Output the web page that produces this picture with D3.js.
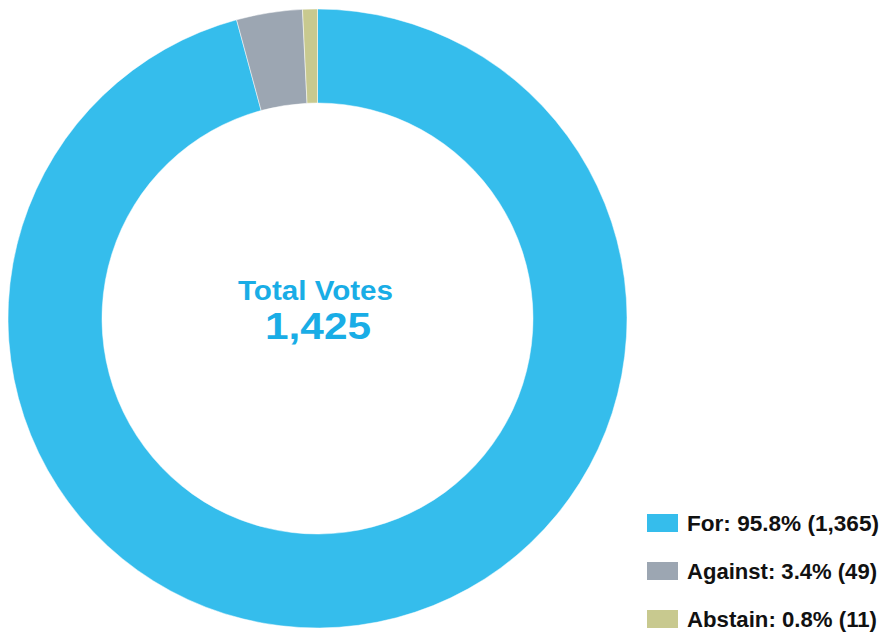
<!DOCTYPE html>
<html>
<head>
<meta charset="utf-8">
<script src="https://cdn.jsdelivr.net/npm/d3@7"></script>
<style>
  body { margin: 0; background: #fff; }
  svg { display: block; font-family: "Liberation Sans", Arial, Helvetica, sans-serif; }
</style>
</head>
<body>
<svg id="chart"></svg>
<script>
// vote results
const labels = ["For", "Against", "Abstain"];
const votes = [1365, 49, 11];
const percents = ["95.8%", "3.4%", "0.8%"];
const colors = ["#35bdec", "#9ca6b2", "#c8c98f"];
const totalLabel = "Total Votes";

const width = 882, height = 632;
const cx = 317.5, cy = 318.5;
const outerR = 309.5, innerR = 215.5;

const svg = d3.select("#chart")
    .attr("width", width)
    .attr("height", height);

const data = labels.map((l, i) => ({label: l, value: votes[i], pct: percents[i], color: colors[i]}));
const total = d3.sum(votes);

const pie = d3.pie()
    .sort(null)
    .value(d => d.value);

const arc = d3.arc()
    .innerRadius(innerR)
    .outerRadius(outerR);

const g = svg.append("g")
    .attr("transform", `translate(${cx},${cy})`);

g.selectAll("path")
  .data(pie(data))
  .join("path")
    .attr("d", arc)
    .attr("fill", d => d.data.color)
    .attr("stroke", "#fff")
    .attr("stroke-width", 0.5);

// center label (Helvetica Neue is wider than what we have, so stretch a bit)
svg.append("text")
    .attr("x", 238)
    .attr("y", 300)
    .attr("fill", "#19ade6")
    .attr("textLength", 155)
    .attr("lengthAdjust", "spacingAndGlyphs")
    .style("font-size", "27px")
    .style("font-weight", "bold")
    .text(totalLabel);

svg.append("text")
    .attr("x", 265)
    .attr("y", 339)
    .attr("fill", "#19ade6")
    .attr("textLength", 106)
    .attr("lengthAdjust", "spacingAndGlyphs")
    .style("font-size", "37px")
    .style("font-weight", "bold")
    .text(d3.format(",")(total));

// legend
const legendLen = [192, 190, 190];

const legend = svg.append("g")
    .attr("transform", "translate(647,514)");

const rows = legend.selectAll("g")
  .data(data)
  .join("g")
    .attr("transform", (d, i) => `translate(0,${i * 48})`);

rows.append("rect")
    .attr("width", 31)
    .attr("height", 18)
    .attr("fill", d => d.color);

rows.append("text")
    .attr("x", 40)
    .attr("y", 17)
    .attr("fill", "#111")
    .attr("textLength", (d, i) => legendLen[i])
    .attr("lengthAdjust", "spacingAndGlyphs")
    .style("font-size", "22px")
    .style("font-weight", "bold")
    .text(d => `${d.label}: ${d.pct} (${d3.format(",")(d.value)})`);
</script>
</body>
</html>
